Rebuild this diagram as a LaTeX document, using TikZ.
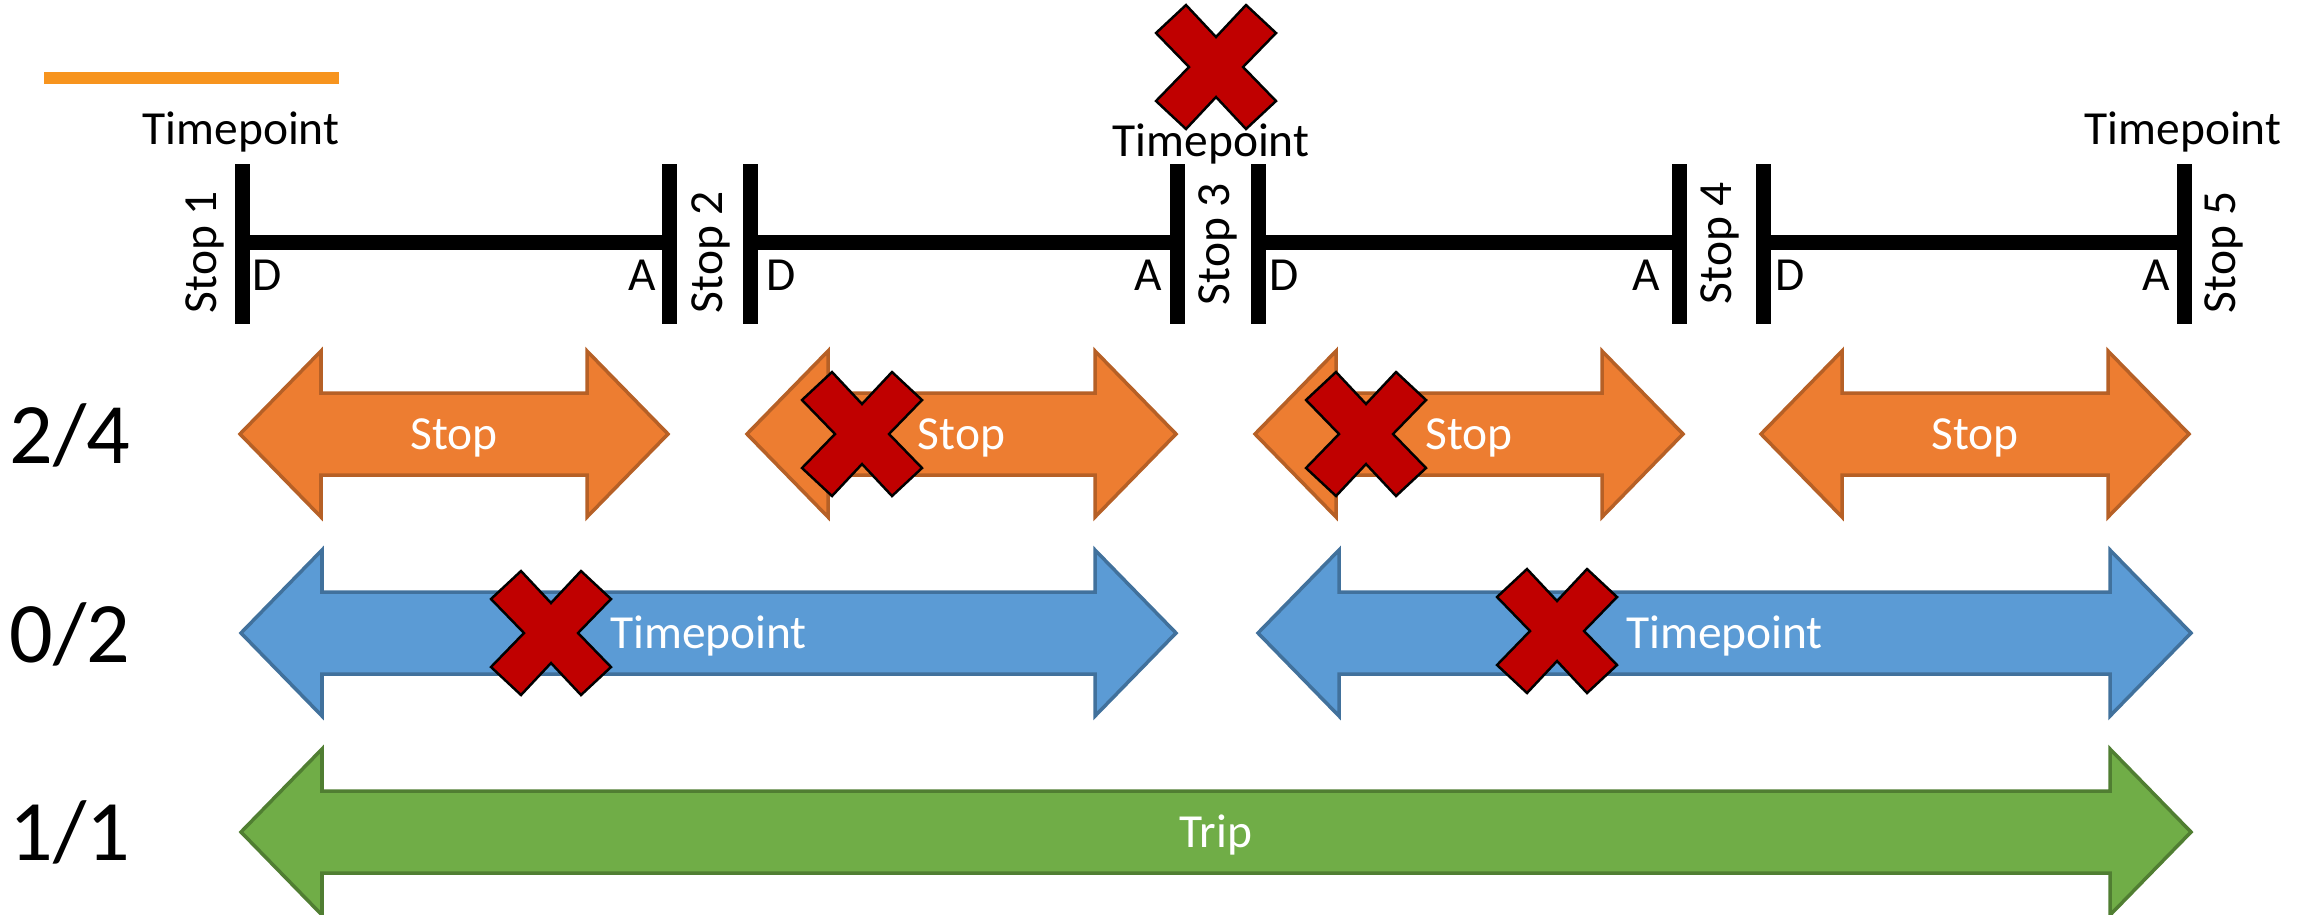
\documentclass[tikz,border=0pt]{standalone}
\usepackage{fontspec}
\setmainfont{Carlito}
\usepackage{xcolor}
\usepackage{tikz}
\usetikzlibrary{calc}

\definecolor{tborange}{RGB}{247,148,30}
\definecolor{stoporange}{RGB}{237,125,49}
\definecolor{stopedge}{RGB}{182,96,38}
\definecolor{tpblue}{RGB}{91,155,213}
\definecolor{tpedge}{RGB}{65,113,156}
\definecolor{tripgreen}{RGB}{112,173,71}
\definecolor{tripedge}{RGB}{80,126,50}
\definecolor{xred}{RGB}{192,0,0}

\tikzset{
  bar/.style={line width=0.15cm},
  lbl/.style={font=\fontsize{13.5}{16}\selectfont, inner sep=0pt},
  rowlbl/.style={font=\fontsize{24.5}{28}\selectfont, inner sep=0pt, anchor=base west},
  stopband/.style={fill=stoporange, draw=stopedge, line width=1pt},
  tpband/.style={fill=tpblue, draw=tpedge, line width=1pt},
  tripband/.style={fill=tripgreen, draw=tripedge, line width=1pt},
  xmark/.pic={\draw[fill=xred, line width=0.7pt]
    (-60,-34) -- (-30,-62) -- (0,-30) -- (30,-62) -- (60,-34) -- (27,0)
    -- (60,34) -- (30,62) -- (0,30) -- (-30,62) -- (-60,34) -- (-27,0) -- cycle;}
}

% double arrow: style, name, left x, right x, centre y, text
\newcommand{\dblband}[6]{%
  \draw[#1] (#3,#5) -- ({#3+81},{#5-83}) -- ({#3+81},{#5-41}) -- ({#4-81},{#5-41})
    -- ({#4-81},{#5-83}) -- (#4,#5) -- ({#4-81},{#5+83}) -- ({#4-81},{#5+41})
    -- ({#3+81},{#5+41}) -- ({#3+81},{#5+83}) -- cycle;
  \node[lbl, white, anchor=base] (#2) at ({(#3+#4)/2},{#5+15}) {#6};}

\begin{document}
\begin{tikzpicture}[x=0.01cm, y=-0.01cm]
\useasboundingbox (0,0) rectangle (2313,914);
\fill[tborange] (44,72) rectangle (339,84);

% timeline
\draw[bar] (242,242) -- (669,242);
\draw[bar] (750,242) -- (1177,242);
\draw[bar] (1258,242) -- (1679,242);
\draw[bar] (1763,242) -- (2184,242);
\draw[bar] (242,164) -- (242,324);
\draw[bar] (669,164) -- (669,324);
\draw[bar] (750,164) -- (750,324);
\draw[bar] (1177,164) -- (1177,324);
\draw[bar] (1258,164) -- (1258,324);
\draw[bar] (1679,164) -- (1679,324);
\draw[bar] (1763,164) -- (1763,324);
\draw[bar] (2184,164) -- (2184,324);

\node[lbl, rotate=90] (stop1) at (205,252) {Stop 1};
\node[lbl, rotate=90] (stop2) at (711,252) {Stop 2};
\node[lbl, rotate=90] (stop3) at (1218,244) {Stop 3};
\node[lbl, rotate=90] (stop4) at (1720,243) {Stop 4};
\node[lbl, rotate=90] (stop5) at (2224,252) {Stop 5};

\node[lbl, anchor=base west] (d1) at (252,290) {D};
\node[lbl, anchor=base east] (a2) at (657,290) {A};
\node[lbl, anchor=base west] (d2) at (766,290) {D};
\node[lbl, anchor=base east] (a3) at (1163,290) {A};
\node[lbl, anchor=base west] (d3) at (1269,290) {D};
\node[lbl, anchor=base east] (a4) at (1661,290) {A};
\node[lbl, anchor=base west] (d4) at (1775,290) {D};
\node[lbl, anchor=base east] (a5) at (2171,290) {A};

\node[lbl, anchor=base] (tp1) at (241,144) {Timepoint};
\node[lbl, anchor=base] (tp3) at (1211,156) {Timepoint};
\node[lbl, anchor=base] (tp5) at (2183,144) {Timepoint};

% rows
\node[rowlbl] (r24) at (9,463) {2/4};
\node[rowlbl] (r02) at (9,662) {0/2};
\node[rowlbl] (r11) at (9,860) {1/1};

\dblband{stopband}{s12}{240}{668}{434}{Stop}
\dblband{stopband}{s23}{747}{1176}{434}{Stop}
\dblband{stopband}{s34}{1255}{1683}{434}{Stop}
\dblband{stopband}{s45}{1761}{2189}{434}{Stop}
\dblband{tpband}{t13}{241}{1176}{633}{Timepoint}
\dblband{tpband}{t35}{1258}{2191}{633}{Timepoint}
\dblband{tripband}{trip}{241}{2191}{832}{Trip}

% crosses
\pic (x0) at (1216,67) {xmark};
\pic (x1) at (862,434) {xmark};
\pic (x2) at (1366,434) {xmark};
\pic (x3) at (551,633) {xmark};
\pic (x4) at (1557,631) {xmark};
\end{tikzpicture}
\end{document}
